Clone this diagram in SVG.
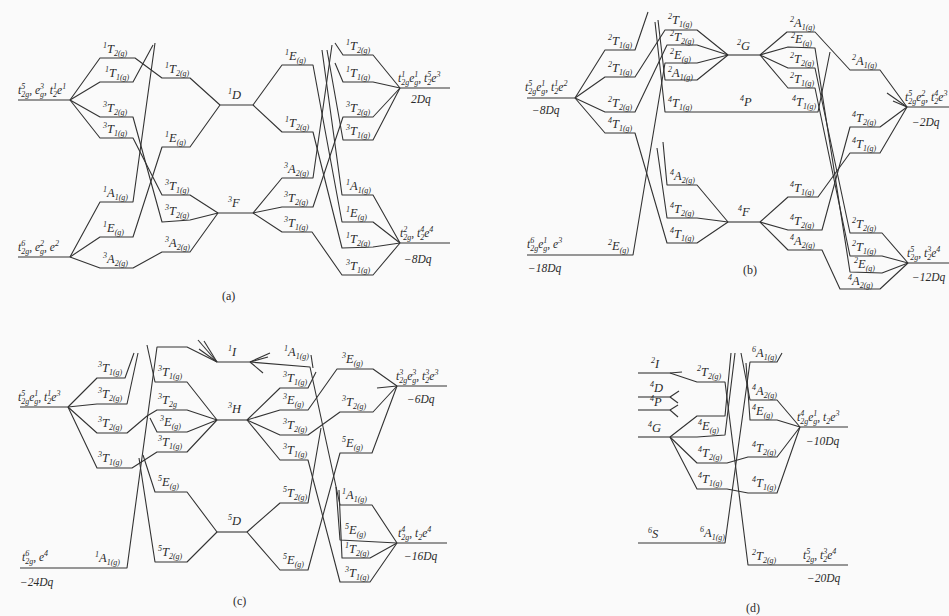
<svg xmlns="http://www.w3.org/2000/svg" width="949" height="616" viewBox="0 0 949 616">
<style>
text{font-family:"Liberation Serif","DejaVu Serif",serif;font-style:italic;font-size:12.5px;fill:#2a2a2a}
.s{font-size:8px}
.cf{font-size:11.5px}
.cap{font-style:normal;font-size:12px}
.ln polyline,.ln line{fill:none;stroke:#333;stroke-width:1.1;stroke-linejoin:round}
</style>
<rect width="949" height="616" fill="#fafafa"/>

<!-- ================= PANEL (a) ================= -->
<g id="connectors-a" class="ln">
<line x1="18" y1="100" x2="70" y2="100"/>
<line x1="18" y1="257" x2="70" y2="257"/>
<polyline points="70,100 100,58 135,58 162,78 190,78 220,105"/>
<polyline points="70,100 100,82 133,82 153,45"/>
<polyline points="70,100 100,117 133,117 162,222 190,220 218,213"/>
<polyline points="70,100 100,138 133,138 162,195 190,195 218,213"/>
<line x1="220" y1="105" x2="253" y2="105"/>
<polyline points="70,257 100,202 133,202 155,43"/>
<polyline points="70,257 100,237 133,237 162,147 190,147 220,105"/>
<polyline points="70,257 100,268 133,268 162,252 190,252 218,213"/>
<line x1="218" y1="213" x2="253" y2="213"/>
<polyline points="253,105 282,65 313,65 342,222 373,222 400,243"/>
<polyline points="253,105 282,132 313,132 342,248 373,247 400,243"/>
<polyline points="253,213 282,178 313,178 332,45"/>
<polyline points="253,213 282,207 313,207 343,117 373,117 400,88"/>
<polyline points="253,213 282,232 312,232 342,275 373,275 400,243"/>
<polyline points="335,43 343,55 373,55 400,88"/>
<polyline points="335,63 343,82 373,82 400,88"/>
<polyline points="327,50 343,140 373,140 400,88"/>
<polyline points="322,50 342,195 373,195 400,243"/>
<line x1="400" y1="88" x2="450" y2="88"/>
<line x1="400" y1="243" x2="450" y2="243"/>
</g>
<g id="labels-a">
<g id="a-cfg1"><text class="cf" x="18" y="94">t<tspan class="s" dy="-5">5</tspan><tspan class="s" dx="-4" dy="8">2g</tspan><tspan dy="-3">, e</tspan><tspan class="s" dy="-5">3</tspan><tspan class="s" dx="-4" dy="8">g</tspan><tspan dy="-3">, t</tspan><tspan class="s" dy="-5">1</tspan><tspan class="s" dx="-4" dy="8">2</tspan><tspan dy="-3">e</tspan><tspan class="s" dy="-5">1</tspan></text></g>
<g id="a-cfg2"><text class="cf" x="18" y="251">t<tspan class="s" dy="-5">6</tspan><tspan class="s" dx="-4" dy="8">2g</tspan><tspan dy="-3">, e</tspan><tspan class="s" dy="-5">2</tspan><tspan class="s" dx="-4" dy="8">g</tspan><tspan dy="-3">, e</tspan><tspan class="s" dy="-5">2</tspan></text></g>
<g id="a-cfg3"><text class="cf" x="398" y="82">t<tspan class="s" dy="-5">1</tspan><tspan class="s" dx="-4" dy="8">2g</tspan><tspan dy="-3">e</tspan><tspan class="s" dy="-5">1</tspan><tspan class="s" dx="-4" dy="8">g</tspan><tspan dy="-3">, t</tspan><tspan class="s" dy="-5">5</tspan><tspan class="s" dx="-4" dy="8">2</tspan><tspan dy="-3">e</tspan><tspan class="s" dy="-5">3</tspan></text><text class="cf" x="411" y="103">2Dq</text></g>
<g id="a-cfg4"><text class="cf" x="400" y="237">t<tspan class="s" dy="-5">2</tspan><tspan class="s" dx="-4" dy="8">2g</tspan><tspan dy="-3">, t</tspan><tspan class="s" dy="-5">4</tspan><tspan class="s" dx="-4" dy="8">2</tspan><tspan dy="-3">e</tspan><tspan class="s" dy="-5">4</tspan></text><text class="cf" x="404" y="263">−8Dq</text></g>
<text x="103" y="53"><tspan class="s" dy="-5">1</tspan><tspan dy="5">T</tspan><tspan class="s" dy="3">2(g)</tspan></text>
<text x="105" y="77"><tspan class="s" dy="-5">1</tspan><tspan dy="5">T</tspan><tspan class="s" dy="3">1(g)</tspan></text>
<text x="103" y="112"><tspan class="s" dy="-5">3</tspan><tspan dy="5">T</tspan><tspan class="s" dy="3">2(g)</tspan></text>
<text x="103" y="133"><tspan class="s" dy="-5">3</tspan><tspan dy="5">T</tspan><tspan class="s" dy="3">1(g)</tspan></text>
<text x="165" y="73"><tspan class="s" dy="-5">1</tspan><tspan dy="5">T</tspan><tspan class="s" dy="3">2(g)</tspan></text>
<text x="165" y="142"><tspan class="s" dy="-5">1</tspan><tspan dy="5">E</tspan><tspan class="s" dy="3">(g)</tspan></text>
<text x="228" y="99"><tspan class="s" dy="-5">1</tspan><tspan dy="5">D</tspan></text>
<text x="103" y="197"><tspan class="s" dy="-5">1</tspan><tspan dy="5">A</tspan><tspan class="s" dy="3">1(g)</tspan></text>
<text x="103" y="232"><tspan class="s" dy="-5">1</tspan><tspan dy="5">E</tspan><tspan class="s" dy="3">(g)</tspan></text>
<text x="103" y="263"><tspan class="s" dy="-5">3</tspan><tspan dy="5">A</tspan><tspan class="s" dy="3">2(g)</tspan></text>
<text x="165" y="190"><tspan class="s" dy="-5">3</tspan><tspan dy="5">T</tspan><tspan class="s" dy="3">1(g)</tspan></text>
<text x="165" y="215"><tspan class="s" dy="-5">3</tspan><tspan dy="5">T</tspan><tspan class="s" dy="3">2(g)</tspan></text>
<text x="165" y="247"><tspan class="s" dy="-5">3</tspan><tspan dy="5">A</tspan><tspan class="s" dy="3">2(g)</tspan></text>
<text x="228" y="207"><tspan class="s" dy="-5">3</tspan><tspan dy="5">F</tspan></text>
<text x="285" y="60"><tspan class="s" dy="-5">1</tspan><tspan dy="5">E</tspan><tspan class="s" dy="3">(g)</tspan></text>
<text x="285" y="127"><tspan class="s" dy="-5">1</tspan><tspan dy="5">T</tspan><tspan class="s" dy="3">2(g)</tspan></text>
<text x="284" y="173"><tspan class="s" dy="-5">3</tspan><tspan dy="5">A</tspan><tspan class="s" dy="3">2(g)</tspan></text>
<text x="284" y="202"><tspan class="s" dy="-5">3</tspan><tspan dy="5">T</tspan><tspan class="s" dy="3">2(g)</tspan></text>
<text x="284" y="227"><tspan class="s" dy="-5">3</tspan><tspan dy="5">T</tspan><tspan class="s" dy="3">1(g)</tspan></text>
<text x="346" y="50"><tspan class="s" dy="-5">1</tspan><tspan dy="5">T</tspan><tspan class="s" dy="3">2(g)</tspan></text>
<text x="346" y="77"><tspan class="s" dy="-5">1</tspan><tspan dy="5">T</tspan><tspan class="s" dy="3">1(g)</tspan></text>
<text x="346" y="112"><tspan class="s" dy="-5">3</tspan><tspan dy="5">T</tspan><tspan class="s" dy="3">2(g)</tspan></text>
<text x="346" y="135"><tspan class="s" dy="-5">3</tspan><tspan dy="5">T</tspan><tspan class="s" dy="3">1(g)</tspan></text>
<text x="346" y="190"><tspan class="s" dy="-5">1</tspan><tspan dy="5">A</tspan><tspan class="s" dy="3">1(g)</tspan></text>
<text x="346" y="217"><tspan class="s" dy="-5">1</tspan><tspan dy="5">E</tspan><tspan class="s" dy="3">(g)</tspan></text>
<text x="346" y="243"><tspan class="s" dy="-5">1</tspan><tspan dy="5">T</tspan><tspan class="s" dy="3">2(g)</tspan></text>
<text x="346" y="270"><tspan class="s" dy="-5">3</tspan><tspan dy="5">T</tspan><tspan class="s" dy="3">1(g)</tspan></text>
<text class="cap" x="222" y="300">(a)</text>
</g>

<!-- ================= PANEL (b) ================= -->
<g id="connectors-b" class="ln">
<line x1="527" y1="98" x2="575" y2="98"/>
<polyline points="575,98 605,50 635,50 648,12"/>
<polyline points="575,98 605,77 635,77 665,30 697,30 728,55"/>
<polyline points="575,98 605,112 635,112 667,45 697,45 728,55"/>
<polyline points="575,98 605,133 635,133 667,243 697,243 728,222"/>
<polyline points="527,255 633,255 665,63 697,63 728,55"/>
<polyline points="658,20 665,80 697,80 728,55"/>
<polyline points="655,22 665,112 818,112 830,52"/>
<polyline points="663,142 667,185 697,185 728,222"/>
<polyline points="657,148 667,218 697,218 728,222"/>
<line x1="728" y1="55" x2="760" y2="55"/>
<line x1="728" y1="222" x2="760" y2="222"/>
<polyline points="760,55 787,32 815,32 850,70 880,70 907,107"/>
<polyline points="760,55 788,47 815,48 850,272 882,273 908,263"/>
<polyline points="760,55 788,68 815,68 850,233 882,233 908,263"/>
<polyline points="760,55 788,88 815,88 850,256 882,256 908,263"/>
<polyline points="760,222 788,197 818,197 850,153 880,153 907,107"/>
<polyline points="760,222 788,230 822,230 850,127 880,127 907,107"/>
<polyline points="760,222 788,250 822,250 840,289 880,289 908,263"/>
<line x1="887" y1="93" x2="907" y2="107"/>
<line x1="893" y1="101" x2="907" y2="107"/>
<line x1="907" y1="107" x2="949" y2="107"/>
<line x1="908" y1="263" x2="949" y2="263"/>
</g>
<g id="labels-b">
<g id="b-cfg1"><text class="cf" x="525" y="91">t<tspan class="s" dy="-5">5</tspan><tspan class="s" dx="-4" dy="8">2g</tspan><tspan dy="-3">e</tspan><tspan class="s" dy="-5">1</tspan><tspan class="s" dx="-4" dy="8">g</tspan><tspan dy="-3">, t</tspan><tspan class="s" dy="-5">1</tspan><tspan class="s" dx="-4" dy="8">2</tspan><tspan dy="-3">e</tspan><tspan class="s" dy="-5">2</tspan></text><text class="cf" x="532" y="114">−8Dq</text></g>
<g id="b-cfg2"><text class="cf" x="527" y="248">t<tspan class="s" dy="-5">6</tspan><tspan class="s" dx="-4" dy="8">2g</tspan><tspan dy="-3">e</tspan><tspan class="s" dy="-5">1</tspan><tspan class="s" dx="-4" dy="8">g</tspan><tspan dy="-3">, e</tspan><tspan class="s" dy="-5">3</tspan></text><text class="cf" x="528" y="272">−18Dq</text></g>
<g id="b-cfg3"><text class="cf" x="905" y="101">t<tspan class="s" dy="-5">5</tspan><tspan class="s" dx="-4" dy="8">2g</tspan><tspan dy="-3">e</tspan><tspan class="s" dy="-5">2</tspan><tspan class="s" dx="-4" dy="8">g</tspan><tspan dy="-3">, t</tspan><tspan class="s" dy="-5">4</tspan><tspan class="s" dx="-4" dy="8">2</tspan><tspan dy="-3">e</tspan><tspan class="s" dy="-5">3</tspan></text><text class="cf" x="912" y="126">−2Dq</text></g>
<g id="b-cfg4"><text class="cf" x="907" y="257">t<tspan class="s" dy="-5">5</tspan><tspan class="s" dx="-4" dy="8">2g</tspan><tspan dy="-3">, t</tspan><tspan class="s" dy="-5">3</tspan><tspan class="s" dx="-4" dy="8">2</tspan><tspan dy="-3">e</tspan><tspan class="s" dy="-5">4</tspan></text><text class="cf" x="912" y="281">−12Dq</text></g>
<text x="608" y="45"><tspan class="s" dy="-5">2</tspan><tspan dy="5">T</tspan><tspan class="s" dy="3">1(g)</tspan></text>
<text x="608" y="72"><tspan class="s" dy="-5">2</tspan><tspan dy="5">T</tspan><tspan class="s" dy="3">1(g)</tspan></text>
<text x="608" y="107"><tspan class="s" dy="-5">2</tspan><tspan dy="5">T</tspan><tspan class="s" dy="3">2(g)</tspan></text>
<text x="608" y="128"><tspan class="s" dy="-5">4</tspan><tspan dy="5">T</tspan><tspan class="s" dy="3">1(g)</tspan></text>
<text x="608" y="250"><tspan class="s" dy="-5">2</tspan><tspan dy="5">E</tspan><tspan class="s" dy="3">(g)</tspan></text>
<text x="668" y="24"><tspan class="s" dy="-5">2</tspan><tspan dy="5">T</tspan><tspan class="s" dy="3">1(g)</tspan></text>
<text x="670" y="41"><tspan class="s" dy="-5">2</tspan><tspan dy="5">T</tspan><tspan class="s" dy="3">2(g)</tspan></text>
<text x="670" y="59"><tspan class="s" dy="-5">2</tspan><tspan dy="5">E</tspan><tspan class="s" dy="3">(g)</tspan></text>
<text x="668" y="77"><tspan class="s" dy="-5">2</tspan><tspan dy="5">A</tspan><tspan class="s" dy="3">1(g)</tspan></text>
<text x="668" y="107"><tspan class="s" dy="-5">4</tspan><tspan dy="5">T</tspan><tspan class="s" dy="3">1(g)</tspan></text>
<text x="670" y="180"><tspan class="s" dy="-5">4</tspan><tspan dy="5">A</tspan><tspan class="s" dy="3">2(g)</tspan></text>
<text x="670" y="213"><tspan class="s" dy="-5">4</tspan><tspan dy="5">T</tspan><tspan class="s" dy="3">2(g)</tspan></text>
<text x="670" y="238"><tspan class="s" dy="-5">4</tspan><tspan dy="5">T</tspan><tspan class="s" dy="3">1(g)</tspan></text>
<text x="737" y="50"><tspan class="s" dy="-5">2</tspan><tspan dy="5">G</tspan></text>
<text x="740" y="106"><tspan class="s" dy="-5">4</tspan><tspan dy="5">P</tspan></text>
<text x="738" y="216"><tspan class="s" dy="-5">4</tspan><tspan dy="5">F</tspan></text>
<text x="790" y="27"><tspan class="s" dy="-5">2</tspan><tspan dy="5">A</tspan><tspan class="s" dy="3">1(g)</tspan></text>
<text x="791" y="43"><tspan class="s" dy="-5">2</tspan><tspan dy="5">E</tspan><tspan class="s" dy="3">(g)</tspan></text>
<text x="790" y="63"><tspan class="s" dy="-5">2</tspan><tspan dy="5">T</tspan><tspan class="s" dy="3">2(g)</tspan></text>
<text x="790" y="83"><tspan class="s" dy="-5">2</tspan><tspan dy="5">T</tspan><tspan class="s" dy="3">1(g)</tspan></text>
<text x="792" y="106"><tspan class="s" dy="-5">4</tspan><tspan dy="5">T</tspan><tspan class="s" dy="3">1(g)</tspan></text>
<text x="852" y="65"><tspan class="s" dy="-5">2</tspan><tspan dy="5">A</tspan><tspan class="s" dy="3">1(g)</tspan></text>
<text x="852" y="122"><tspan class="s" dy="-5">4</tspan><tspan dy="5">T</tspan><tspan class="s" dy="3">2(g)</tspan></text>
<text x="852" y="148"><tspan class="s" dy="-5">4</tspan><tspan dy="5">T</tspan><tspan class="s" dy="3">1(g)</tspan></text>
<text x="790" y="192"><tspan class="s" dy="-5">4</tspan><tspan dy="5">T</tspan><tspan class="s" dy="3">1(g)</tspan></text>
<text x="790" y="225"><tspan class="s" dy="-5">4</tspan><tspan dy="5">T</tspan><tspan class="s" dy="3">2(g)</tspan></text>
<text x="790" y="245"><tspan class="s" dy="-5">4</tspan><tspan dy="5">A</tspan><tspan class="s" dy="3">2(g)</tspan></text>
<text x="852" y="228"><tspan class="s" dy="-5">2</tspan><tspan dy="5">T</tspan><tspan class="s" dy="3">2(g)</tspan></text>
<text x="852" y="251"><tspan class="s" dy="-5">2</tspan><tspan dy="5">T</tspan><tspan class="s" dy="3">1(g)</tspan></text>
<text x="854" y="268"><tspan class="s" dy="-5">2</tspan><tspan dy="5">E</tspan><tspan class="s" dy="3">(g)</tspan></text>
<text x="848" y="285"><tspan class="s" dy="-5">4</tspan><tspan dy="5">A</tspan><tspan class="s" dy="3">2(g)</tspan></text>
<text class="cap" x="743" y="274">(b)</text>
</g>

<!-- ================= PANEL (c) ================= -->
<g id="connectors-c" class="ln">
<line x1="20" y1="407" x2="68" y2="407"/>
<polyline points="68,407 97,378 125,378 134,353"/>
<polyline points="68,407 97,404 127,404 138,353"/>
<polyline points="68,407 97,433 127,433 147,416 157,410 187,410 217,420"/>
<polyline points="68,407 97,468 132,468 157,452 187,452 217,420"/>
<polyline points="20,568 127,568 157,347 187,347 217,362"/>
<polyline points="147,345 155,382 187,382 217,420"/>
<polyline points="150,418 157,432 187,432 217,420"/>
<polyline points="143,455 155,492 187,492 217,532"/>
<polyline points="139,458 155,562 187,562 217,532"/>
<line x1="198" y1="340" x2="217" y2="362"/>
<line x1="204" y1="341" x2="217" y2="362"/>
<line x1="199" y1="349" x2="217" y2="362"/>
<line x1="217" y1="362" x2="250" y2="362"/>
<line x1="217" y1="420" x2="247" y2="420"/>
<line x1="217" y1="532" x2="247" y2="532"/>
<line x1="250" y1="362" x2="270" y2="353"/>
<line x1="250" y1="362" x2="268" y2="357"/>
<line x1="250" y1="362" x2="263" y2="373"/>
<polyline points="250,362 310,367 340,505 372,505 397,543"/>
<line x1="311" y1="355" x2="313" y2="368"/>
<polyline points="247,420 280,388 308,388 316,372"/>
<polyline points="247,420 280,410 308,410 337,369 373,369 397,386"/>
<polyline points="247,420 280,435 308,435 340,412 373,412 397,386"/>
<polyline points="247,420 280,460 308,460 340,582 370,582 397,543"/>
<polyline points="247,532 280,503 308,503 321,428"/>
<polyline points="247,532 280,570 308,570 340,453 372,453 397,386"/>
<polyline points="336,487 340,540 397,543"/>
<polyline points="339,490 342,558 370,558 397,543"/>
<line x1="377" y1="388" x2="397" y2="386"/>
<line x1="397" y1="386" x2="447" y2="386"/>
<line x1="397" y1="543" x2="447" y2="543"/>
</g>
<g id="labels-c">
<g id="c-cfg1"><text class="cf" x="18" y="401">t<tspan class="s" dy="-5">5</tspan><tspan class="s" dx="-4" dy="8">2g</tspan><tspan dy="-3">e</tspan><tspan class="s" dy="-5">1</tspan><tspan class="s" dx="-4" dy="8">g</tspan><tspan dy="-3">, t</tspan><tspan class="s" dy="-5">1</tspan><tspan class="s" dx="-4" dy="8">2</tspan><tspan dy="-3">e</tspan><tspan class="s" dy="-5">3</tspan></text></g>
<g id="c-cfg2"><text class="cf" x="22" y="561">t<tspan class="s" dy="-5">6</tspan><tspan class="s" dx="-4" dy="8">2g</tspan><tspan dy="-3">, e</tspan><tspan class="s" dy="-5">4</tspan></text><text class="cf" x="20" y="586">−24Dq</text></g>
<g id="c-cfg3"><text class="cf" x="396" y="380">t<tspan class="s" dy="-5">3</tspan><tspan class="s" dx="-4" dy="8">2g</tspan><tspan dy="-3">e</tspan><tspan class="s" dy="-5">3</tspan><tspan class="s" dx="-4" dy="8">g</tspan><tspan dy="-3">, t</tspan><tspan class="s" dy="-5">3</tspan><tspan class="s" dx="-4" dy="8">2</tspan><tspan dy="-3">e</tspan><tspan class="s" dy="-5">3</tspan></text><text class="cf" x="407" y="403">−6Dq</text></g>
<g id="c-cfg4"><text class="cf" x="398" y="537">t<tspan class="s" dy="-5">4</tspan><tspan class="s" dx="-4" dy="8">2g</tspan><tspan dy="-3">, t</tspan><tspan class="s" dy="3">2</tspan><tspan dy="-3">e</tspan><tspan class="s" dy="-5">4</tspan></text><text class="cf" x="404" y="560">−16Dq</text></g>
<text x="98" y="372"><tspan class="s" dy="-5">3</tspan><tspan dy="5">T</tspan><tspan class="s" dy="3">1(g)</tspan></text>
<text x="98" y="398"><tspan class="s" dy="-5">3</tspan><tspan dy="5">T</tspan><tspan class="s" dy="3">2(g)</tspan></text>
<text x="98" y="427"><tspan class="s" dy="-5">3</tspan><tspan dy="5">T</tspan><tspan class="s" dy="3">2(g)</tspan></text>
<text x="98" y="462"><tspan class="s" dy="-5">3</tspan><tspan dy="5">T</tspan><tspan class="s" dy="3">1(g)</tspan></text>
<text x="95" y="562"><tspan class="s" dy="-5">1</tspan><tspan dy="5">A</tspan><tspan class="s" dy="3">1(g)</tspan></text>
<text x="158" y="376"><tspan class="s" dy="-5">3</tspan><tspan dy="5">T</tspan><tspan class="s" dy="3">1(g)</tspan></text>
<text x="158" y="404"><tspan class="s" dy="-5">3</tspan><tspan dy="5">T</tspan><tspan class="s" dy="3">2g</tspan></text>
<text x="160" y="426"><tspan class="s" dy="-5">3</tspan><tspan dy="5">E</tspan><tspan class="s" dy="3">(g)</tspan></text>
<text x="158" y="446"><tspan class="s" dy="-5">3</tspan><tspan dy="5">T</tspan><tspan class="s" dy="3">1(g)</tspan></text>
<text x="158" y="486"><tspan class="s" dy="-5">5</tspan><tspan dy="5">E</tspan><tspan class="s" dy="3">(g)</tspan></text>
<text x="158" y="556"><tspan class="s" dy="-5">5</tspan><tspan dy="5">T</tspan><tspan class="s" dy="3">2(g)</tspan></text>
<text x="228" y="356"><tspan class="s" dy="-5">1</tspan><tspan dy="5">I</tspan></text>
<text x="228" y="413"><tspan class="s" dy="-5">3</tspan><tspan dy="5">H</tspan></text>
<text x="228" y="525"><tspan class="s" dy="-5">5</tspan><tspan dy="5">D</tspan></text>
<text x="284" y="356"><tspan class="s" dy="-5">1</tspan><tspan dy="5">A</tspan><tspan class="s" dy="3">1(g)</tspan></text>
<text x="283" y="382"><tspan class="s" dy="-5">3</tspan><tspan dy="5">T</tspan><tspan class="s" dy="3">1(g)</tspan></text>
<text x="283" y="404"><tspan class="s" dy="-5">3</tspan><tspan dy="5">E</tspan><tspan class="s" dy="3">(g)</tspan></text>
<text x="283" y="429"><tspan class="s" dy="-5">3</tspan><tspan dy="5">T</tspan><tspan class="s" dy="3">2(g)</tspan></text>
<text x="283" y="454"><tspan class="s" dy="-5">3</tspan><tspan dy="5">T</tspan><tspan class="s" dy="3">1(g)</tspan></text>
<text x="283" y="497"><tspan class="s" dy="-5">5</tspan><tspan dy="5">T</tspan><tspan class="s" dy="3">2(g)</tspan></text>
<text x="283" y="564"><tspan class="s" dy="-5">5</tspan><tspan dy="5">E</tspan><tspan class="s" dy="3">(g)</tspan></text>
<text x="342" y="363"><tspan class="s" dy="-5">3</tspan><tspan dy="5">E</tspan><tspan class="s" dy="3">(g)</tspan></text>
<text x="342" y="406"><tspan class="s" dy="-5">3</tspan><tspan dy="5">T</tspan><tspan class="s" dy="3">2(g)</tspan></text>
<text x="342" y="447"><tspan class="s" dy="-5">5</tspan><tspan dy="5">E</tspan><tspan class="s" dy="3">(g)</tspan></text>
<text x="342" y="499"><tspan class="s" dy="-5">1</tspan><tspan dy="5">A</tspan><tspan class="s" dy="3">1(g)</tspan></text>
<text x="345" y="534"><tspan class="s" dy="-5">5</tspan><tspan dy="5">E</tspan><tspan class="s" dy="3">(g)</tspan></text>
<text x="345" y="553"><tspan class="s" dy="-5">1</tspan><tspan dy="5">T</tspan><tspan class="s" dy="3">2(g)</tspan></text>
<text x="345" y="577"><tspan class="s" dy="-5">3</tspan><tspan dy="5">T</tspan><tspan class="s" dy="3">1(g)</tspan></text>
<text class="cap" x="233" y="605">(c)</text>
</g>

<!-- ================= PANEL (d) ================= -->
<g id="connectors-d" class="ln">
<line x1="638" y1="373" x2="670" y2="373"/>
<line x1="670" y1="373" x2="682" y2="372"/>
<polyline points="670,373 697,382 725,382 748,565 848,565"/>
<line x1="638" y1="397" x2="670" y2="397"/>
<line x1="670" y1="397" x2="679" y2="391"/>
<line x1="670" y1="397" x2="678" y2="403"/>
<line x1="638" y1="410" x2="670" y2="410"/>
<line x1="670" y1="410" x2="678" y2="405"/>
<line x1="670" y1="410" x2="678" y2="417"/>
<line x1="638" y1="437" x2="670" y2="437"/>
<polyline points="670,437 697,416 725,416 731,353"/>
<polyline points="670,437 697,437 725,435 735,353"/>
<polyline points="670,437 697,463 727,463 748,457 777,457 800,427"/>
<polyline points="670,437 697,489 727,489 748,493 777,493 800,427"/>
<polyline points="638,543 725,543 750,362 777,362 782,353"/>
<polyline points="741,353 750,400 777,400 800,427"/>
<polyline points="746,363 750,420 777,420 800,427"/>
<line x1="800" y1="427" x2="848" y2="427"/>
</g>
<g id="labels-d">
<g id="d-cfg1"><text class="cf" x="797" y="421">t<tspan class="s" dy="-5">4</tspan><tspan class="s" dx="-4" dy="8">2g</tspan><tspan dy="-3">e</tspan><tspan class="s" dy="-5">1</tspan><tspan class="s" dx="-4" dy="8">g</tspan><tspan dy="-3">, t</tspan><tspan class="s" dy="3">2</tspan><tspan dy="-3">e</tspan><tspan class="s" dy="-5">3</tspan></text><text class="cf" x="806" y="445">−10Dq</text></g>
<g id="d-cfg2"><text class="cf" x="803" y="559">t<tspan class="s" dy="-5">5</tspan><tspan class="s" dx="-4" dy="8">2g</tspan><tspan dy="-3">, t</tspan><tspan class="s" dy="-5">3</tspan><tspan class="s" dx="-4" dy="8">2</tspan><tspan dy="-3">e</tspan><tspan class="s" dy="-5">4</tspan></text><text class="cf" x="807" y="582">−20Dq</text></g>
<text x="651" y="368"><tspan class="s" dy="-5">2</tspan><tspan dy="5">I</tspan></text>
<text x="697" y="376"><tspan class="s" dy="-5">2</tspan><tspan dy="5">T</tspan><tspan class="s" dy="3">2(g)</tspan></text>
<text x="650" y="392"><tspan class="s" dy="-5">4</tspan><tspan dy="5">D</tspan></text>
<text x="650" y="406"><tspan class="s" dy="-5">4</tspan><tspan dy="5">P</tspan></text>
<text x="648" y="432"><tspan class="s" dy="-5">4</tspan><tspan dy="5">G</tspan></text>
<text x="698" y="430"><tspan class="s" dy="-5">4</tspan><tspan dy="5">E</tspan><tspan class="s" dy="3">(g)</tspan></text>
<text x="698" y="457"><tspan class="s" dy="-5">4</tspan><tspan dy="5">T</tspan><tspan class="s" dy="3">2(g)</tspan></text>
<text x="698" y="483"><tspan class="s" dy="-5">4</tspan><tspan dy="5">T</tspan><tspan class="s" dy="3">1(g)</tspan></text>
<text x="648" y="538"><tspan class="s" dy="-5">6</tspan><tspan dy="5">S</tspan></text>
<text x="700" y="537"><tspan class="s" dy="-5">6</tspan><tspan dy="5">A</tspan><tspan class="s" dy="3">1(g)</tspan></text>
<text x="752" y="357"><tspan class="s" dy="-5">6</tspan><tspan dy="5">A</tspan><tspan class="s" dy="3">1(g)</tspan></text>
<text x="752" y="395"><tspan class="s" dy="-5">4</tspan><tspan dy="5">A</tspan><tspan class="s" dy="3">2(g)</tspan></text>
<text x="752" y="415"><tspan class="s" dy="-5">4</tspan><tspan dy="5">E</tspan><tspan class="s" dy="3">(g)</tspan></text>
<text x="752" y="452"><tspan class="s" dy="-5">4</tspan><tspan dy="5">T</tspan><tspan class="s" dy="3">2(g)</tspan></text>
<text x="752" y="487"><tspan class="s" dy="-5">4</tspan><tspan dy="5">T</tspan><tspan class="s" dy="3">1(g)</tspan></text>
<text x="752" y="560"><tspan class="s" dy="-5">2</tspan><tspan dy="5">T</tspan><tspan class="s" dy="3">2(g)</tspan></text>
<text class="cap" x="746" y="612">(d)</text>
</g>
</svg>
